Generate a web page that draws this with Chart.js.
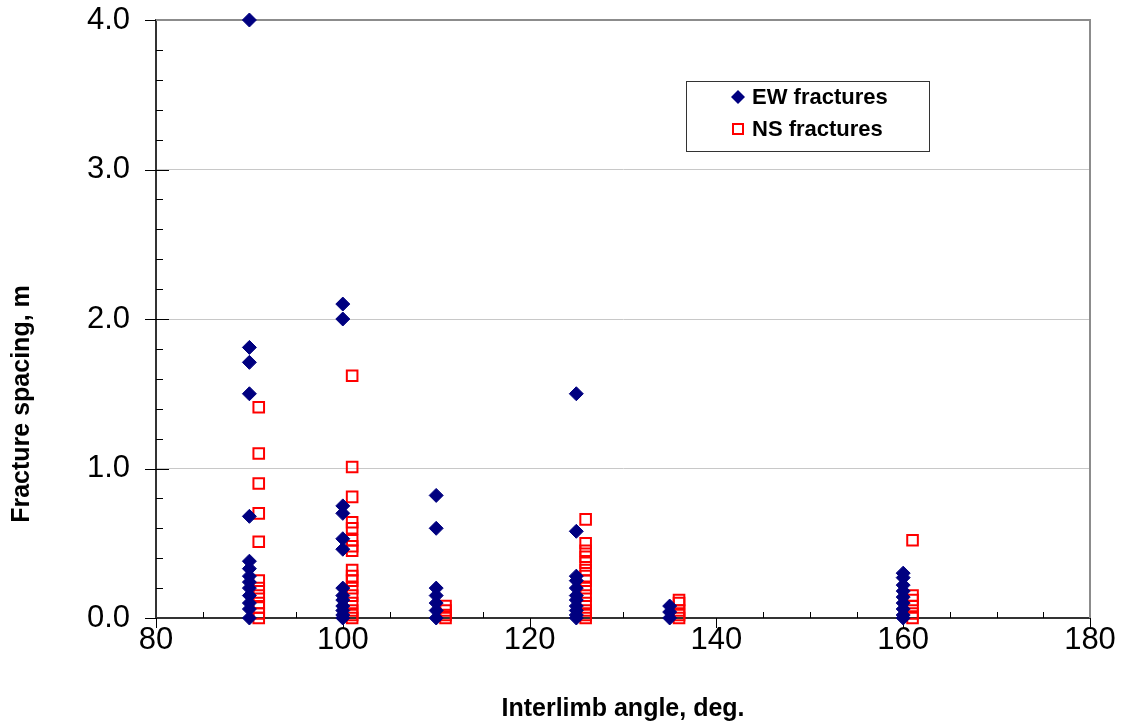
<!DOCTYPE html>
<html>
<head>
<meta charset="utf-8">
<script src="https://cdn.jsdelivr.net/npm/chart.js@4"></script>
<style>
  body { margin: 0; background: #fff; }
  #wrap { width: 1127px; height: 725px; }
</style>
</head>
<body>
<div id="wrap"><canvas id="chart"></canvas></div>
<script>
// interlimb angle of each fold group (NS points sit 1 deg to the right)
const ewAngles = [90, 100, 110, 125, 135, 160];
const nsAngles = [91, 101, 111, 126, 136, 161];

// fracture spacing (m) per group
const ew90  = [4.0, 1.81, 1.71, 1.5, 0.68, 0.38, 0.33, 0.28, 0.24, 0.2, 0.15, 0.1, 0.06, 0.0];
const ew100 = [2.1, 2.0, 0.75, 0.7, 0.53, 0.46, 0.2, 0.15, 0.12, 0.08, 0.05, 0.02, 0.0];
const ew110 = [0.82, 0.6, 0.2, 0.15, 0.1, 0.05, 0.0];
const ew125 = [1.5, 0.58, 0.28, 0.25, 0.2, 0.15, 0.12, 0.08, 0.05, 0.02, 0.0];
const ew135 = [0.08, 0.04, 0.0];
const ew160 = [0.3, 0.27, 0.22, 0.18, 0.14, 0.1, 0.06, 0.02, 0.0];

const ns91  = [1.41, 1.1, 0.9, 0.7, 0.51, 0.25, 0.2, 0.15, 0.1, 0.07, 0.03, 0.0];
const ns101 = [1.62, 1.01, 0.81, 0.64, 0.6, 0.52, 0.48, 0.45, 0.32, 0.28, 0.25, 0.2, 0.15, 0.1, 0.05, 0.02, 0.0];
const ns111 = [0.08, 0.05, 0.02, 0.0];
const ns126 = [0.66, 0.5, 0.45, 0.41, 0.37, 0.32, 0.28, 0.25, 0.2, 0.15, 0.1, 0.05, 0.02, 0.0];
const ns136 = [0.12, 0.1, 0.05, 0.02, 0.0];
const ns161 = [0.52, 0.15, 0.12, 0.08, 0.03, 0.0];

const ewGroups = [ew90, ew100, ew110, ew125, ew135, ew160];
const nsGroups = [ns91, ns101, ns111, ns126, ns136, ns161];

const xTicks = [80, 100, 120, 140, 160, 180];
const yTicks = [0, 1, 2, 3, 4];

function toPoints(angles, groups) {
  const pts = [];
  angles.forEach((a, i) => groups[i].forEach(v => pts.push({ x: a, y: v })));
  return pts;
}

const FONT = "'Liberation Sans', Arial, sans-serif";

// tick marks, plot frame, y title and legend box
const extras = {
  id: 'extras',
  beforeDatasetsDraw(chart) {
    const { ctx, chartArea: a, scales: { x, y } } = chart;
    ctx.save();
    // top and right frame
    ctx.strokeStyle = '#8c8c8c';
    ctx.lineWidth = 2;
    ctx.beginPath();
    ctx.moveTo(a.left, a.top);
    ctx.lineTo(a.right, a.top);
    ctx.lineTo(a.right, a.bottom);
    ctx.stroke();

    ctx.strokeStyle = '#000';
    ctx.lineWidth = 1;
    ctx.beginPath();
    for (let v = 80; v <= 180; v += 5) {
      const px = Math.round(x.getPixelForValue(v)) + 0.5;
      if (v % 20 === 0) {
        ctx.moveTo(px, a.bottom);
        ctx.lineTo(px, a.bottom + 10);
      } else {
        ctx.moveTo(px, a.bottom);
        ctx.lineTo(px, a.bottom - 6);
      }
    }
    for (let i = 0; i <= 20; i++) {
      const v = i * 0.2;
      const py = Math.round(y.getPixelForValue(v)) + 0.5;
      if (i % 5 === 0) {
        ctx.moveTo(a.left - 11, py);
        ctx.lineTo(a.left + (i > 0 && i < 20 ? 13 : 0), py);
      } else {
        ctx.moveTo(a.left, py);
        ctx.lineTo(a.left + 7, py);
      }
    }
    ctx.stroke();
    ctx.restore();
  },
  afterDraw(chart) {
    const { ctx } = chart;
    ctx.save();
    // y axis title
    ctx.translate(22, 404);
    ctx.rotate(-Math.PI / 2);
    ctx.font = 'bold 25px ' + FONT;
    ctx.fillStyle = '#000';
    ctx.textAlign = 'center';
    ctx.textBaseline = 'middle';
    ctx.fillText('Fracture spacing, m', 0, 0);
    ctx.restore();

    // legend
    ctx.save();
    ctx.fillStyle = '#fff';
    ctx.fillRect(686, 81, 243, 70);
    ctx.strokeStyle = '#333';
    ctx.lineWidth = 1;
    ctx.strokeRect(686.5, 81.5, 243, 70);
    ctx.font = 'bold 22px ' + FONT;
    ctx.textBaseline = 'middle';
    chart.data.datasets.forEach((ds, i) => {
      const cy = 97 + i * 32;
      ctx.beginPath();
      if (ds.pointStyle === 'rectRot') {
        const r = 7;
        ctx.fillStyle = ds.backgroundColor;
        ctx.moveTo(738, cy - r); ctx.lineTo(738 + r, cy); ctx.lineTo(738, cy + r); ctx.lineTo(738 - r, cy);
        ctx.closePath();
        ctx.fill();
      } else {
        ctx.strokeStyle = ds.borderColor;
        ctx.lineWidth = ds.borderWidth;
        ctx.rect(733, cy - 5, 10, 10);
        ctx.stroke();
      }
      ctx.fillStyle = '#000';
      ctx.fillText(ds.label, 752, cy + 1);
    });
    ctx.restore();
  }
};

new Chart(document.getElementById('chart'), {
  type: 'scatter',
  data: {
    datasets: [{
      label: 'EW fractures',
      data: toPoints(ewAngles, ewGroups),
      pointStyle: 'rectRot',
      pointRadius: 7,
      pointHoverRadius: 7,
      backgroundColor: '#000080',
      borderColor: '#000080',
      borderWidth: 1
    }, {
      label: 'NS fractures',
      data: toPoints(nsAngles, nsGroups),
      pointStyle: 'rect',
      pointRadius: 7.5,
      pointHoverRadius: 7.5,
      backgroundColor: 'rgba(0,0,0,0)',
      borderColor: '#ff0000',
      borderWidth: 2
    }]
  },
  options: {
    responsive: true,
    maintainAspectRatio: false,
    animation: false,
    clip: false,
    layout: { padding: { top: 20, right: 37, left: 0, bottom: 0 } },
    plugins: {
      legend: { display: false },
      tooltip: { enabled: false }
    },
    scales: {
      x: {
        type: 'linear',
        min: 80,
        max: 180,
        afterBuildTicks: s => { s.ticks = xTicks.map(v => ({ value: v })); },
        afterFit: s => { s.height = 107; },
        ticks: {
          color: '#000',
          font: { family: FONT, size: 31 },
          padding: 4,
          maxRotation: 0
        },
        grid: {
          drawOnChartArea: false,
          drawTicks: false
        },
        border: { color: '#333', width: 2 },
        title: {
          display: true,
          text: 'Interlimb angle, deg.',
          color: '#000',
          font: { family: FONT, size: 25, weight: 'bold' },
          padding: { top: 0, bottom: 1 }
        }
      },
      y: {
        type: 'linear',
        min: 0,
        max: 4,
        afterBuildTicks: s => { s.ticks = yTicks.map(v => ({ value: v })); },
        afterFit: s => { s.width = 156; },
        ticks: {
          color: '#000',
          font: { family: FONT, size: 31 },
          padding: 0,
          callback: v => v.toFixed(1)
        },
        grid: {
          color: c => (c.tick && (c.tick.value === 0 || c.tick.value === 4)) ? 'rgba(0,0,0,0)' : '#c8c8c8',
          lineWidth: 1,
          tickLength: 26,
          tickColor: 'rgba(0,0,0,0)'
        },
        border: { color: '#333', width: 2 }
      }
    }
  },
  plugins: [extras]
});
</script>
</body>
</html>
